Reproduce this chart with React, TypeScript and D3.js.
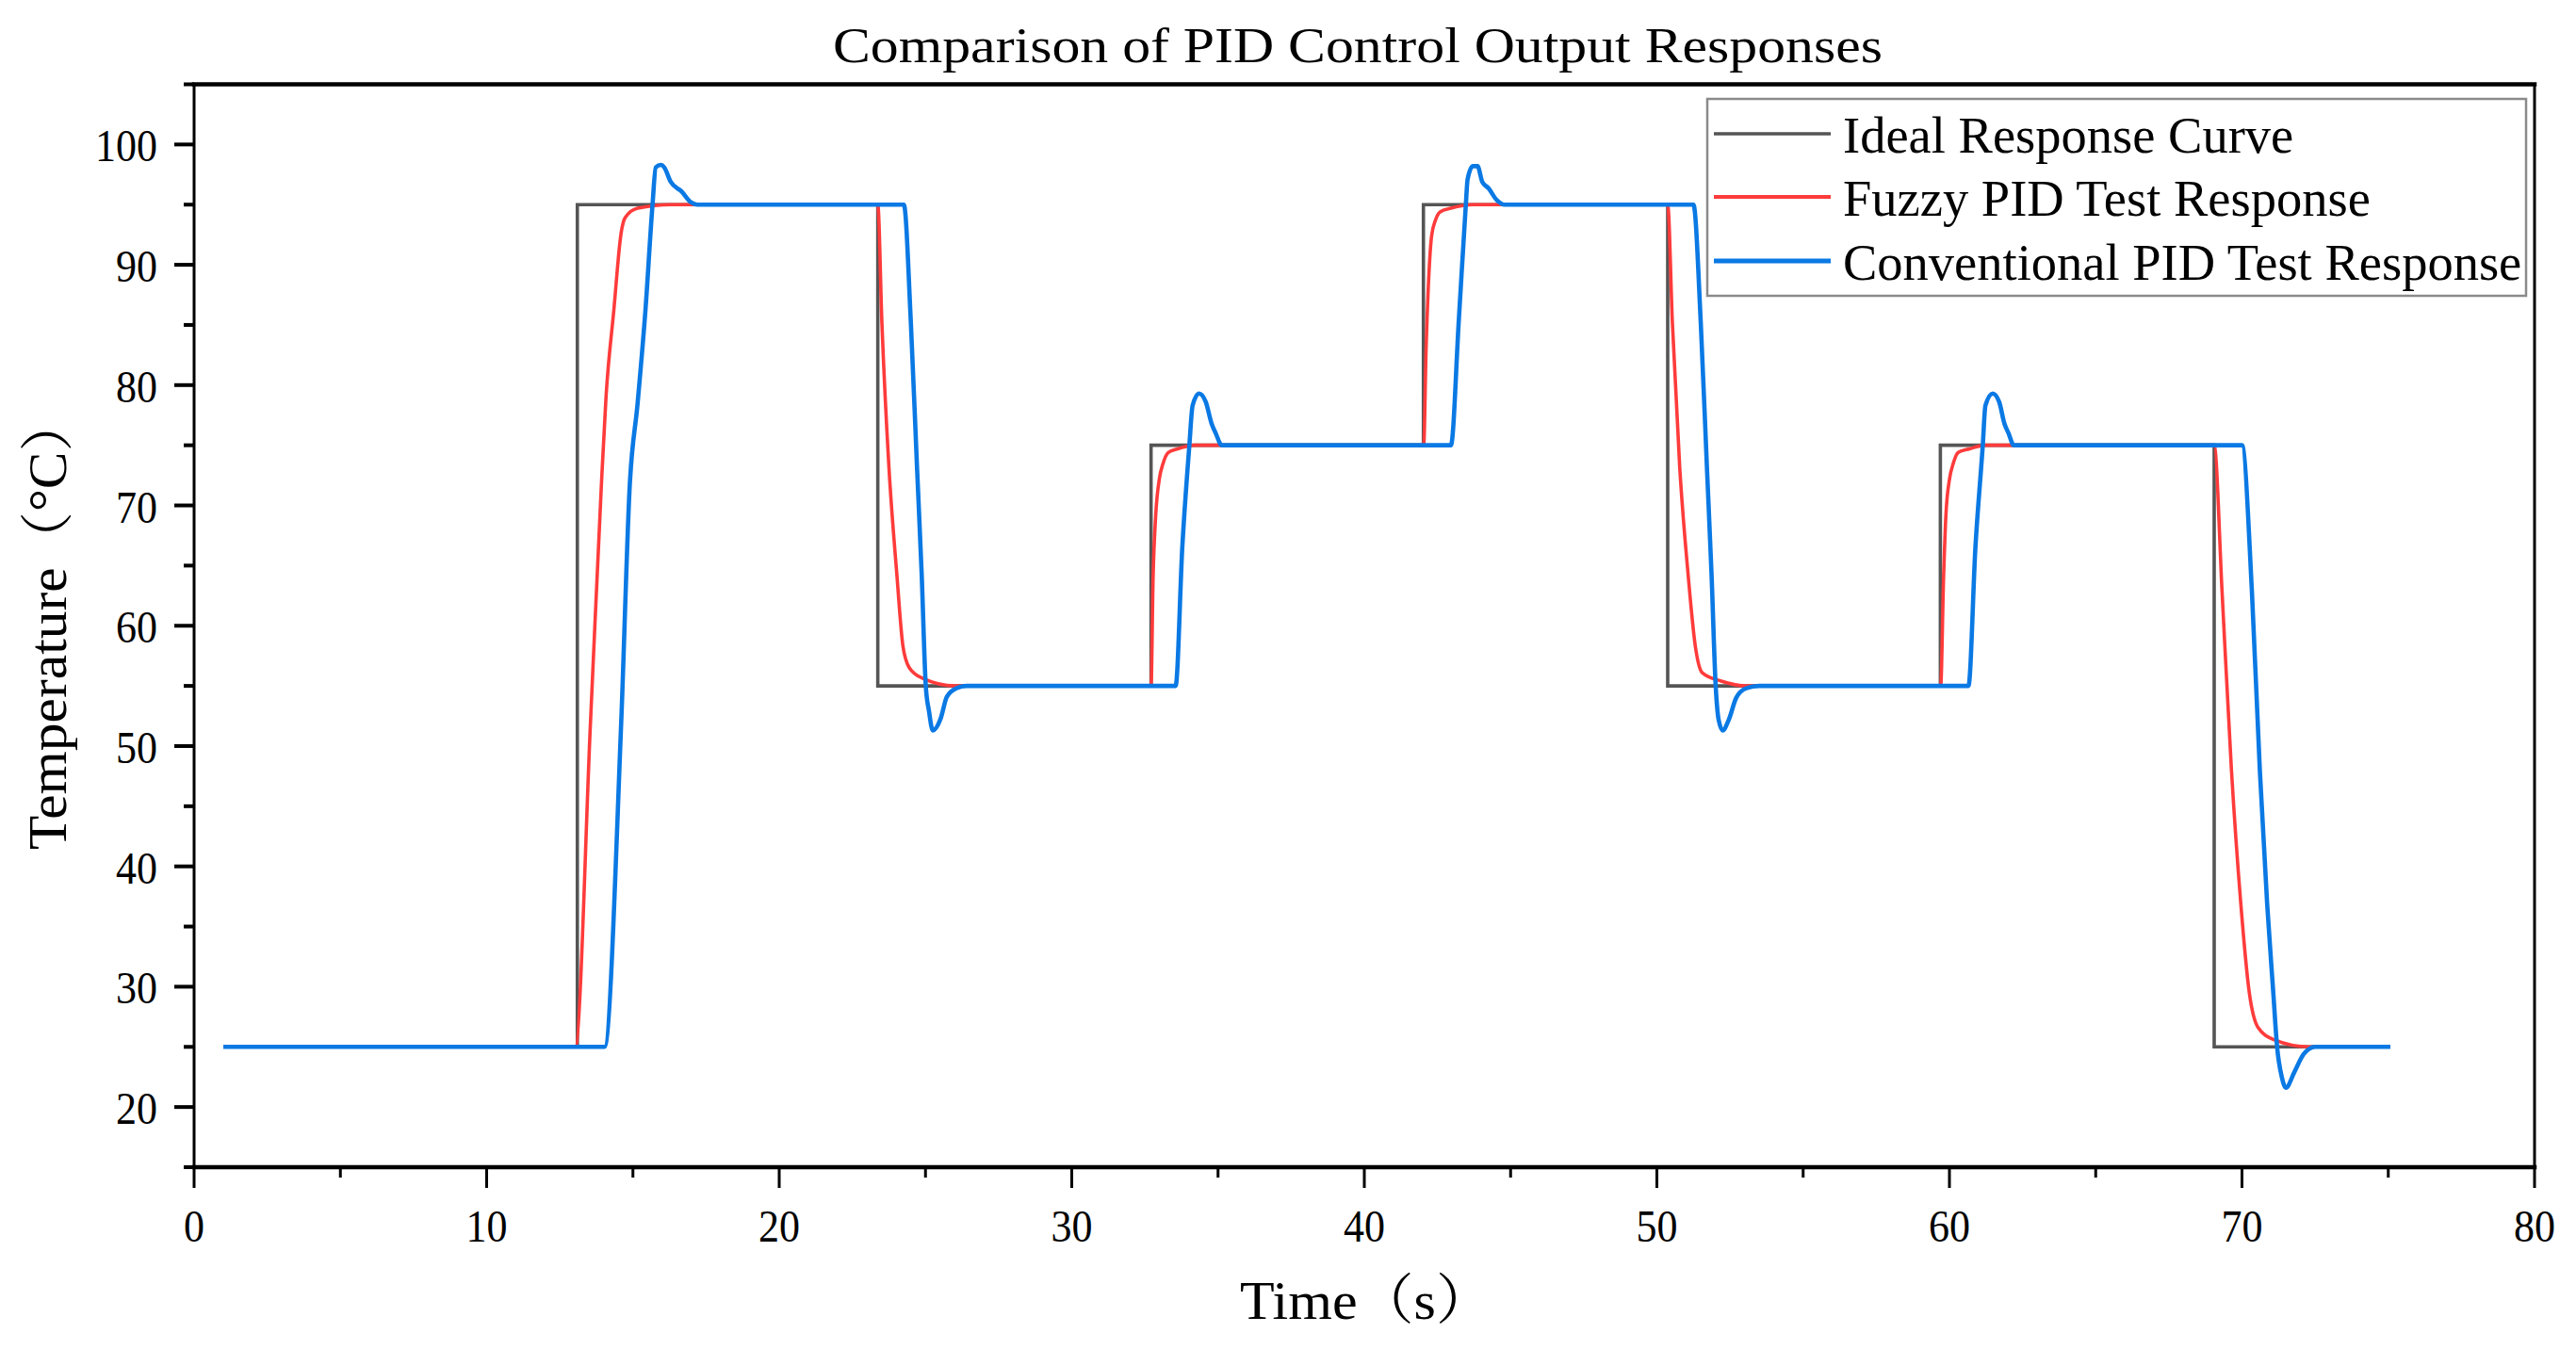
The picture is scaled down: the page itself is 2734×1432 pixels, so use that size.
import React from "react";
import * as d3 from "d3";

// ---------- data ----------
const seriesNames = ["Ideal Response Curve", "Fuzzy PID Test Response", "Conventional PID Test Response"];
const seriesColors = ["#555555", "#ff3b3b", "#0a79e4"];

const idealTime = [1, 13.1, 23.37, 32.71, 42.02, 50.37, 59.69, 69.05, 75.07];
const idealTemp = [25, 95, 55, 75, 95, 55, 75, 25, 25];

const fuzzyTime = [
  1, 13.03, 13.55, 13.92, 14.08, 14.35, 14.6, 14.73, 15.16, 16.3,
  23.37, 23.51, 23.75, 24.02, 24.23, 24.45, 24.93, 26.0,
  32.71, 32.78, 32.87, 33.0, 33.11, 33.3, 33.62, 34.2,
  42.03, 42.11, 42.21, 42.3, 42.43, 42.59, 42.96, 43.7,
  50.37, 50.53, 50.78, 51.07, 51.32, 51.55, 52.2, 53.1,
  59.7, 59.8, 59.88, 60.01, 60.12, 60.3, 60.68, 61.22,
  69.05, 69.32, 69.64, 69.96, 70.25, 70.55, 71.09, 72.3,
  75.07,
];
const fuzzyTemp = [
  25, 25, 52.0, 71.6, 79.0, 86.3, 92.7, 93.9, 94.7, 95,
  95, 85.2, 73.2, 64.3, 58.3, 56.5, 55.6, 55,
  55, 64.0, 69.2, 72.3, 73.4, 74.4, 74.7, 75,
  75, 82.8, 89.3, 92.4, 93.7, 94.4, 94.7, 95,
  95, 85.2, 73.2, 64.2, 58.2, 56.1, 55.4, 55,
  55, 64.0, 69.2, 72.3, 73.4, 74.4, 74.7, 75,
  75, 62.8, 48.0, 36.9, 29.5, 26.6, 25.6, 25,
  25,
];

const convTime = [
  1, 14.03, 14.6, 14.89, 15.16, 15.43, 15.67, 15.78, 15.96, 16.07, 16.29, 16.66, 16.98, 17.2,
  24.26, 24.5, 24.71, 24.87, 25.01, 25.12, 25.25, 25.52, 25.73, 26.05, 26.4,
  33.55, 33.78, 34.02, 34.13, 34.35, 34.58, 34.78, 34.92, 35.13,
  42.96, 43.23, 43.47, 43.53, 43.71, 43.87, 44.03, 44.25, 44.52, 44.79,
  51.25, 51.5, 51.71, 51.87, 52.01, 52.11, 52.25, 52.46, 52.71, 53.05, 53.5,
  60.65, 60.89, 61.14, 61.23, 61.48, 61.7, 61.88, 62.02, 62.2,
  70.0, 70.34, 70.61, 70.86, 71.07, 71.2, 71.36, 71.5, 71.79, 72.11, 72.5,
  75.07,
];
const convTemp = [
  25, 25, 52, 71.6, 78.5, 86.3, 95, 98.1, 98.3, 98.1, 96.9, 96.1, 95.2, 95,
  95, 85.2, 73.2, 64.3, 55, 52.9, 51.3, 52.3, 54.1, 54.8, 55,
  55, 66.6, 75, 78.3, 79.3, 78.6, 76.8, 76.0, 75,
  75, 85.4, 95, 97.1, 98.2, 98.2, 96.9, 96.35, 95.4, 95,
  95, 85.2, 73.2, 64.2, 55, 52.2, 51.3, 52.2, 54.0, 54.8, 55,
  55, 66.6, 75, 78.3, 79.3, 78.6, 76.8, 76.0, 75,
  75, 62.8, 48.0, 36.9, 29.5, 25, 22.5, 21.6, 22.9, 24.4, 25,
  25,
];

const xMajorTicks = [0, 10, 20, 30, 40, 50, 60, 70, 80];
const xMinorTicks = [5, 15, 25, 35, 45, 55, 65, 75];
const yMajorTicks = [20, 30, 40, 50, 60, 70, 80, 90, 100];
const yMinorTicks = [15, 25, 35, 45, 55, 65, 75, 85, 95, 105];

const titleText = "Comparison of PID Control Output Responses";
const xLabel = "Time（s）";
const yLabel = "Temperature（°C）";

// ---------- layout ----------
const W = 2734;
const H = 1432;
const L = 206;
const R = 2690;
const T = 89.5;
const B = 1239;
const FONT = "'Liberation Serif', 'Times New Roman', 'Noto Serif CJK SC', 'Noto Sans CJK SC', serif";

export default function App() {
  const x = d3.scaleLinear().domain([0, 80]).range([L, R]);
  const y = d3.scaleLinear().domain([15, 105]).range([B, T]);

  const zip = (a: number[], b: number[]) => a.map((v, i) => [v, b[i]] as [number, number]);

  const stepLine = d3
    .line<[number, number]>()
    .x((d) => x(d[0]))
    .y((d) => y(d[1]))
    .curve(d3.curveStepAfter);
  const smoothLine = d3
    .line<[number, number]>()
    .x((d) => x(d[0]))
    .y((d) => y(d[1]))
    .curve(d3.curveMonotoneX);

  const idealPath = stepLine(zip(idealTime, idealTemp)) || "";
  const fuzzyPath = smoothLine(zip(fuzzyTime, fuzzyTemp)) || "";
  const convPath = smoothLine(zip(convTime, convTemp)) || "";

  const legX = 1812;
  const legY = 105;
  const legW = 869;
  const legH = 209;
  const rowY = [142, 209, 277];
  const legWidths = [3.5, 3.8, 4.8];

  return (
    <div style={{ position: "fixed", left: 0, top: 0, width: W, height: H, background: "#fff" }}>
      <svg width={W} height={H} viewBox={`0 0 ${W} ${H}`} style={{ display: "block" }}>
        <rect x={0} y={0} width={W} height={H} fill="#fff" />

        {/* title */}
        <text
          x={1441}
          y={66}
          textAnchor="middle"
          fontFamily={FONT}
          fontSize={52}
          textLength={1114}
          lengthAdjust="spacingAndGlyphs"
          fill="#000"
        >
          {titleText}
        </text>

        <defs>
          <clipPath id="plotClip">
            <rect x={L} y={T} width={R - L} height={B - T} />
          </clipPath>
        </defs>

        {/* data lines */}
        <g clipPath="url(#plotClip)">
          <path d={idealPath} fill="none" stroke={seriesColors[0]} strokeWidth={3.6} />
          <path d={fuzzyPath} fill="none" stroke={seriesColors[1]} strokeWidth={3.6} strokeLinejoin="round" />
          <path d={convPath} fill="none" stroke={seriesColors[2]} strokeWidth={4.6} strokeLinejoin="round" />
        </g>

        {/* frame */}
        <line x1={L} x2={R} y1={T} y2={T} stroke="#000" strokeWidth={4.5} strokeLinecap="square" />
        <line x1={L} x2={R} y1={B} y2={B} stroke="#000" strokeWidth={4.5} strokeLinecap="square" />
        <line x1={L} x2={L} y1={T} y2={B} stroke="#000" strokeWidth={3} />
        <line x1={R} x2={R} y1={T} y2={B} stroke="#000" strokeWidth={3} />

        {/* x ticks */}
        {xMajorTicks.map((t) => (
          <g key={"xM" + t}>
            <line x1={x(t)} x2={x(t)} y1={B} y2={B + 22} stroke="#000" strokeWidth={3} />
            <text
              x={x(t)}
              y={1318}
              textAnchor="middle"
              fontFamily={FONT}
              fontSize={48}
              textLength={String(t).length * 22}
              lengthAdjust="spacingAndGlyphs"
              fill="#000"
            >
              {t}
            </text>
          </g>
        ))}
        {xMinorTicks.map((t) => (
          <line key={"xm" + t} x1={x(t)} x2={x(t)} y1={B} y2={B + 11} stroke="#000" strokeWidth={3} />
        ))}

        {/* y ticks */}
        {yMajorTicks.map((t) => (
          <g key={"yM" + t}>
            <line x1={L - 21} x2={L} y1={y(t)} y2={y(t)} stroke="#000" strokeWidth={4} />
            <text
              x={167}
              y={y(t) + 18}
              textAnchor="end"
              fontFamily={FONT}
              fontSize={48}
              textLength={String(t).length * 22}
              lengthAdjust="spacingAndGlyphs"
              fill="#000"
            >
              {t}
            </text>
          </g>
        ))}
        {yMinorTicks.map((t) => (
          <line key={"ym" + t} x1={L - 11} x2={L} y1={y(t)} y2={y(t)} stroke="#000" strokeWidth={4} />
        ))}

        {/* axis titles */}
        <text
          x={1316}
          y={1400}
          textAnchor="start"
          fontFamily={FONT}
          fontSize={58}
          textLength={268}
          lengthAdjust="spacingAndGlyphs"
          fill="#000"
        >
          {xLabel}
        </text>
        <text
          transform={`translate(70, 902) rotate(-90)`}
          textAnchor="start"
          fontFamily={FONT}
          fontSize={57}
          textLength={482}
          lengthAdjust="spacingAndGlyphs"
          fill="#000"
        >
          {yLabel}
        </text>

        {/* legend */}
        <rect x={legX} y={legY} width={legW} height={legH} fill="#fff" stroke="#8a8a8a" strokeWidth={2.5} />
        {seriesNames.map((name, i) => (
          <g key={name}>
            <line
              x1={1819}
              x2={1943}
              y1={rowY[i]}
              y2={rowY[i]}
              stroke={seriesColors[i]}
              strokeWidth={legWidths[i]}
            />
            <text x={1956} y={rowY[i] + 20} fontFamily={FONT} fontSize={54.5} fill="#000">
              {name}
            </text>
          </g>
        ))}
      </svg>
    </div>
  );
}
